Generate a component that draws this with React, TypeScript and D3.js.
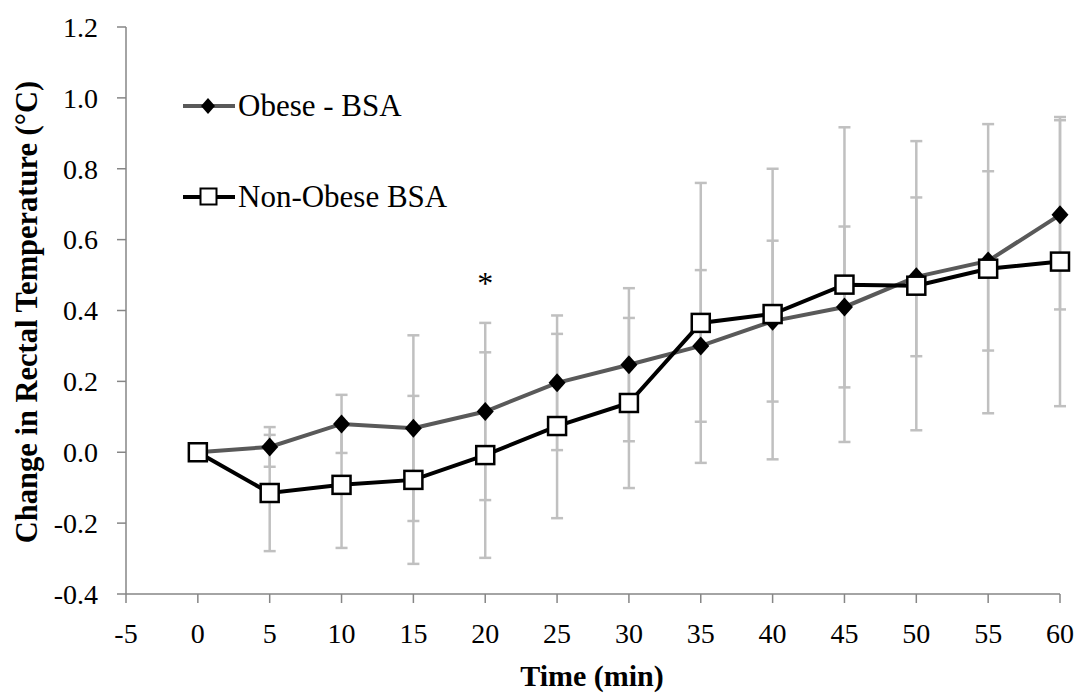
import React from "react";
import * as d3 from "d3";

const times = [0, 5, 10, 15, 20, 25, 30, 35, 40, 45, 50, 55, 60];
const obeseMean = [0, 0.015, 0.08, 0.068, 0.115, 0.196, 0.247, 0.3, 0.37, 0.41, 0.495, 0.54, 0.67];
const obeseSd = [0, 0.056, 0.082, 0.262, 0.25, 0.19, 0.216, 0.214, 0.227, 0.227, 0.224, 0.253, 0.267];
const nonObeseMean = [0, -0.115, -0.092, -0.078, -0.008, 0.074, 0.139, 0.365, 0.39, 0.473, 0.47, 0.518, 0.538];
const nonObeseSd = [0, 0.164, 0.178, 0.237, 0.29, 0.26, 0.24, 0.395, 0.41, 0.444, 0.408, 0.408, 0.408];
const xTicks = [-5, 0, 5, 10, 15, 20, 25, 30, 35, 40, 45, 50, 55, 60];
const yTicks = [-0.4, -0.2, 0, 0.2, 0.4, 0.6, 0.8, 1.0, 1.2];
const seriesNames = ["Obese - BSA", "Non-Obese BSA"];
const sigTimes = [20];

const W = 1078;
const H = 694;
const axisColor = "#868686";
const errColor = "#c0c0c0";
const font = "Liberation Serif, Times New Roman, serif";
const txt = { fontFamily: font };

export default function App() {
  const x = d3.scaleLinear().domain([-5, 60]).range([126, 1060]);
  const y = d3.scaleLinear().domain([-0.4, 1.2]).range([594, 27]);

  const line = d3
    .line<number>()
    .x((d, i) => x(times[i]))
    .y(d => y(d));

  const errBars = (means: number[], sds: number[], key: string) =>
    times.map((t, i) => {
      if (!sds[i]) return null;
      const cx = x(t);
      const top = y(means[i] + sds[i]);
      const bot = y(means[i] - sds[i]);
      return (
        <g key={key + i} stroke={errColor} strokeWidth={2.5}>
          <line x1={cx} x2={cx} y1={top} y2={bot} />
          <line x1={cx - 6} x2={cx + 6} y1={top} y2={top} />
          <line x1={cx - 6} x2={cx + 6} y1={bot} y2={bot} />
        </g>
      );
    });

  const diamond = (cx: number, cy: number, r: number) =>
    `M${cx},${cy - r - 1}L${cx + r},${cy}L${cx},${cy + r + 1}L${cx - r},${cy}Z`;

  return (
    <svg
      width={W}
      height={H}
      style={{ position: "absolute", left: 0, top: 0, background: "#fff" }}
    >
      {/* axes */}
      <g stroke={axisColor} strokeWidth={1.5}>
        <line x1={x(-5)} x2={x(-5)} y1={y(1.2)} y2={y(-0.4)} />
        <line x1={x(-5)} x2={x(60)} y1={y(-0.4)} y2={y(-0.4)} />
        {yTicks.map(t => (
          <line key={"yt" + t} x1={x(-5) - 9} x2={x(-5)} y1={y(t)} y2={y(t)} />
        ))}
        {xTicks.map(t => (
          <line key={"xt" + t} x1={x(t)} x2={x(t)} y1={y(-0.4)} y2={y(-0.4) + 9} />
        ))}
      </g>
      {yTicks.map(t => (
        <text
          key={"yl" + t}
          x={98}
          y={y(t)}
          dy="0.35em"
          textAnchor="end"
          fontSize={28}
          fill="#000"
          style={txt}
        >
          {t.toFixed(1)}
        </text>
      ))}
      {xTicks.map(t => (
        <text key={"xl" + t} x={x(t)} y={643} textAnchor="middle" fontSize={28} fill="#000" style={txt}>
          {t}
        </text>
      ))}
      <text x={592} y={686} textAnchor="middle" fontSize={30} fontWeight="bold" style={txt}>
        Time (min)
      </text>
      <text
        transform={`translate(37,312) rotate(-90)`}
        textAnchor="middle"
        fontSize={30.5}
        fontWeight="bold"
        style={txt}
      >
        Change in Rectal Temperature (°C)
      </text>

      {/* error bars */}
      {errBars(obeseMean, obeseSd, "eo")}
      {errBars(nonObeseMean, nonObeseSd, "en")}

      {/* series */}
      <path d={line(obeseMean) || ""} fill="none" stroke="#595959" strokeWidth={4} />
      {obeseMean.map((v, i) => (
        <path key={"d" + i} d={diamond(x(times[i]), y(v), 8.5)} fill="#000" />
      ))}
      <path d={line(nonObeseMean) || ""} fill="none" stroke="#000" strokeWidth={4} />
      {nonObeseMean.map((v, i) => (
        <rect
          key={"s" + i}
          x={x(times[i]) - 9}
          y={y(v) - 9}
          width={18}
          height={18}
          fill="#fff"
          stroke="#000"
          strokeWidth={2.5}
        />
      ))}

      {sigTimes.map(t => (
        <text key={"sig" + t} x={x(t)} y={294} textAnchor="middle" fontSize={32} style={txt}>
          *
        </text>
      ))}

      {/* legend */}
      <g>
        <line x1={183} x2={235} y1={106} y2={106} stroke="#595959" strokeWidth={4} />
        <path d={diamond(208, 106, 7)} fill="#000" />
        <text x={238} y={116} fontSize={31} style={txt}>
          {seriesNames[0]}
        </text>
        <line x1={183} x2={235} y1={197} y2={197} stroke="#000" strokeWidth={4} />
        <rect x={200.5} y={188.5} width={16} height={16} fill="#fff" stroke="#000" strokeWidth={2} />
        <text x={238} y={207} fontSize={31} style={txt}>
          {seriesNames[1]}
        </text>
      </g>
    </svg>
  );
}
